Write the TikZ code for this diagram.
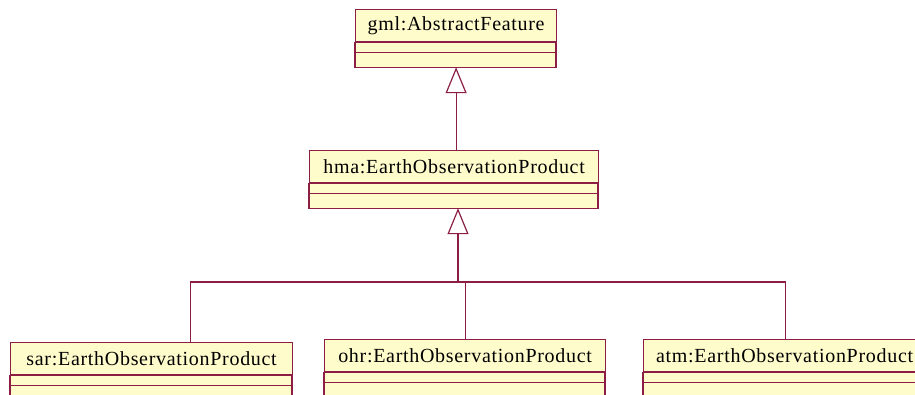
\documentclass[tikz,border=0pt]{standalone}
\usepackage{fontspec}
\setmainfont{Liberation Serif}
\newfontfamily\umlfont[LetterSpace=3.5]{Liberation Serif}
\usetikzlibrary{arrows.meta,positioning}
\definecolor{umlline}{RGB}{140,30,70}
\definecolor{umlfill}{RGB}{255,252,204}

% class box: name compartment plus two empty compartments
\newcommand\umlclass[5]{%
  \node[cls,minimum width=#4] (#1) at (#2,-#3) {#5};
  \draw[part] (#1.south west) rectangle ++(#4,-10) ++(-#4,0) rectangle ++(#4,-15);}

\begin{document}
\begin{tikzpicture}[x=1pt,y=1pt,
  cls/.style={draw=umlline,fill=umlfill,line width=1.2pt,minimum height=32pt,
              inner sep=0pt,anchor=north west,font=\umlfont\fontsize{20}{24}\selectfont},
  part/.style={draw=umlline,fill=umlfill,line width=1.2pt},
  gen/.style={draw=umlline,line width=1.2pt,-{Triangle[open,length=26pt,width=21pt]}},
  tie/.style={draw=umlline,line width=1.2pt}]
\useasboundingbox (0,0) rectangle (915,-394);
\clip (0,0) rectangle (915,-394);
\umlclass{feat}{355}{9}{201}{gml:AbstractFeature}
\umlclass{hma}{309}{150}{289}{hma:EarthObservationProduct}
\umlclass{sar}{10}{342}{282}{sar:EarthObservationProduct}
\umlclass{ohr}{324}{339}{281}{ohr:EarthObservationProduct}
\umlclass{atm}{643}{339}{282}{atm:EarthObservationProduct}
\coordinate (bus) at (458,-282);
\draw[gen] (feat.south |- hma.north) -- ([yshift=-25]feat.south);
\draw[gen] (bus) -- ([yshift=-25]bus |- hma.south);
\draw[tie] ([xshift=39]sar.north) |- (bus) -| ([xshift=1]atm.north);
\draw[tie] (ohr.north) -- (ohr.north |- bus);
\end{tikzpicture}
\end{document}
